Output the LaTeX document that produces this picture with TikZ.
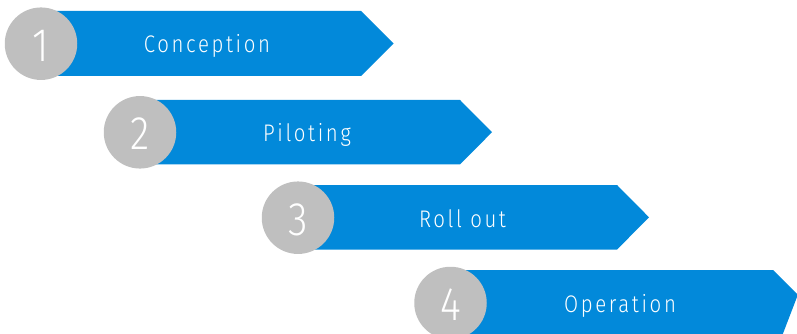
\documentclass[tikz,border=0pt]{standalone}
\usepackage{fontspec}
\newfontfamily\lblfont{Fira Sans Light}[LetterSpace=11,FakeStretch=0.85]
\newfontfamily\numfont{Fira Sans Light}[FakeStretch=0.85]
\definecolor{stepblue}{HTML}{0289DA}
\definecolor{stepgray}{HTML}{BFBFBF}
\begin{document}
\begin{tikzpicture}[x=1pt,y=-1pt,
  band/.style={fill=stepblue,draw=none},
  disc/.style={circle,fill=stepgray,draw=none,minimum size=72.5pt,inner sep=0pt},
  numtxt/.style={text=white,font=\numfont\fontsize{47}{47}\selectfont,anchor=base},
  lbltxt/.style={text=white,font=\lblfont\fontsize{24}{24}\selectfont,anchor=base}]
\useasboundingbox (0,0) rectangle (797,334);
\begin{scope}
\clip (0,0) rectangle (797,334);
% arrows: left x, top y, flat end x, height
\fill[band] (55,11) -- (361,11) -- (393.5,43.5) -- (361,76) -- (55,76) -- cycle;
\fill[band] (155,100) -- (460,100) -- (492,132.2) -- (460,164.4) -- (155,164.4) -- cycle;
\fill[band] (310,185) -- (617,185) -- (649,217.3) -- (617,249.6) -- (310,249.6) -- cycle;
\fill[band] (465,270) -- (773,270) -- (797,294) -- (797,297) -- (780.5,340) -- (465,340) -- cycle;
\end{scope}
\node[disc] (c1) at (41,43.7) {};
\node[disc] (c2) at (140,132.3) {};
\node[disc] (c3) at (298,217.7) {};
\node[disc] (c4) at (450.5,303) {};
\node[numtxt] (n1) at ([yshift=-17.5pt]c1.center) {1};
\node[numtxt] (n2) at ([yshift=-17.5pt]c2.center) {2};
\node[numtxt] (n3) at ([yshift=-17.5pt]c3.center) {3};
\node[numtxt] (n4) at ([yshift=-17.5pt]c4.center) {4};
\node[lbltxt] (t1) at (207,52.8) {Conception};
\node[lbltxt] (t2) at (307,141.6) {Piloting};
\node[lbltxt] (t3) at (462.5,227.2) {Roll out};
\node[lbltxt] (t4) at (620,312.2) {Operation};
\end{tikzpicture}
\end{document}
